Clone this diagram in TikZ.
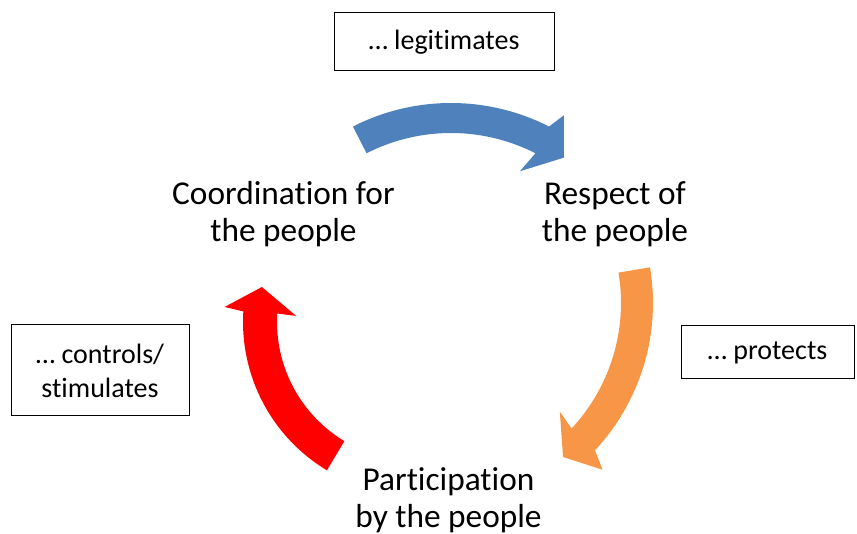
\documentclass[tikz,border=0pt]{standalone}
\usepackage{fontspec}
\setmainfont{Carlito}[Ligatures=NoCommon]
\usepackage{tikz}
\tikzset{every picture/.style={line width=0.75pt}}

\begin{document}
\begin{tikzpicture}[x=0.75pt,y=0.75pt,yscale=-1,xscale=1,
	main label/.style={font=\fontsize{25}{27.5}\selectfont, align=center, inner sep=0pt},
	verb box/.style={draw, font=\fontsize{21}{25.5}\selectfont, align=center, inner sep=0pt},
	blue arrow/.style={fill={rgb, 255:red, 79; green, 129; blue, 189 }},
	orange arrow/.style={fill={rgb, 255:red, 247; green, 150; blue, 70 }},
	red arrow/.style={fill={rgb, 255:red, 255; green, 0; blue, 0 }}]
	%set diagram left start at 0, and has height of 534
	\useasboundingbox (0,0) rectangle (857,534);
	
	% centres of the three circular arrows
	\coordinate (cb) at (451,319);
	\coordinate (co) at (437,303);
	\coordinate (cr) at (416,322);
	
	%Shape: Circular Arrow [blue, top]
	\fill [blue arrow] ([shift={(-117:216)}]cb) arc [start angle=-117, end angle=-63, radius=216]
		-- ([shift={(-61:233)}]cb) -- ([shift={(-55:197)}]cb) -- ([shift={(-65:163)}]cb)
		-- ([shift={(-63:186)}]cb) arc [start angle=-63, end angle=-117, radius=186] -- cycle ;
	
	%Shape: Circular Arrow [orange, right]
	\fill [orange arrow] ([shift={(-9.5:216)}]co) arc [start angle=-9.5, end angle=43, radius=216]
		-- ([shift={(45.2:235)}]co) -- ([shift={(50.7:199)}]co) -- ([shift={(41.5:164)}]co)
		-- ([shift={(43:184)}]co) arc [start angle=43, end angle=-9.5, radius=184] -- cycle ;
	
	%Shape: Circular Arrow [red, left]
	\fill [red arrow] ([shift={(121:173)}]cr) arc [start angle=121, end angle=183.5, radius=173]
		-- ([shift={(184.5:192)}]cr) -- ([shift={(192.8:158)}]cr) -- ([shift={(182.9:120)}]cr)
		-- ([shift={(183.5:139)}]cr) arc [start angle=183.5, end angle=121, radius=139] -- cycle ;
	
	% Text Node
	\node [main label] (coord) at (283.5,214) {Coordination for\\the people};
	% Text Node
	\node [main label] (resp) at (615,214) {Respect of\\the people};
	% Text Node
	\node [main label] (part) at (448.5,500) {Participation\\by the people};
	
	% Text Node
	\node [verb box, minimum width=165pt, minimum height=43.5pt] (legit) at (444,42) {… legitimates};
	% Text Node
	\node [verb box, minimum width=133.5pt, minimum height=68.25pt] (contr) at (100,370.5) {… controls/\\stimulates};
	% Text Node
	\node [verb box, minimum width=129.75pt, minimum height=39.75pt] (prot) at (767.5,352.5) {… protects};
	
\end{tikzpicture}
\end{document}
